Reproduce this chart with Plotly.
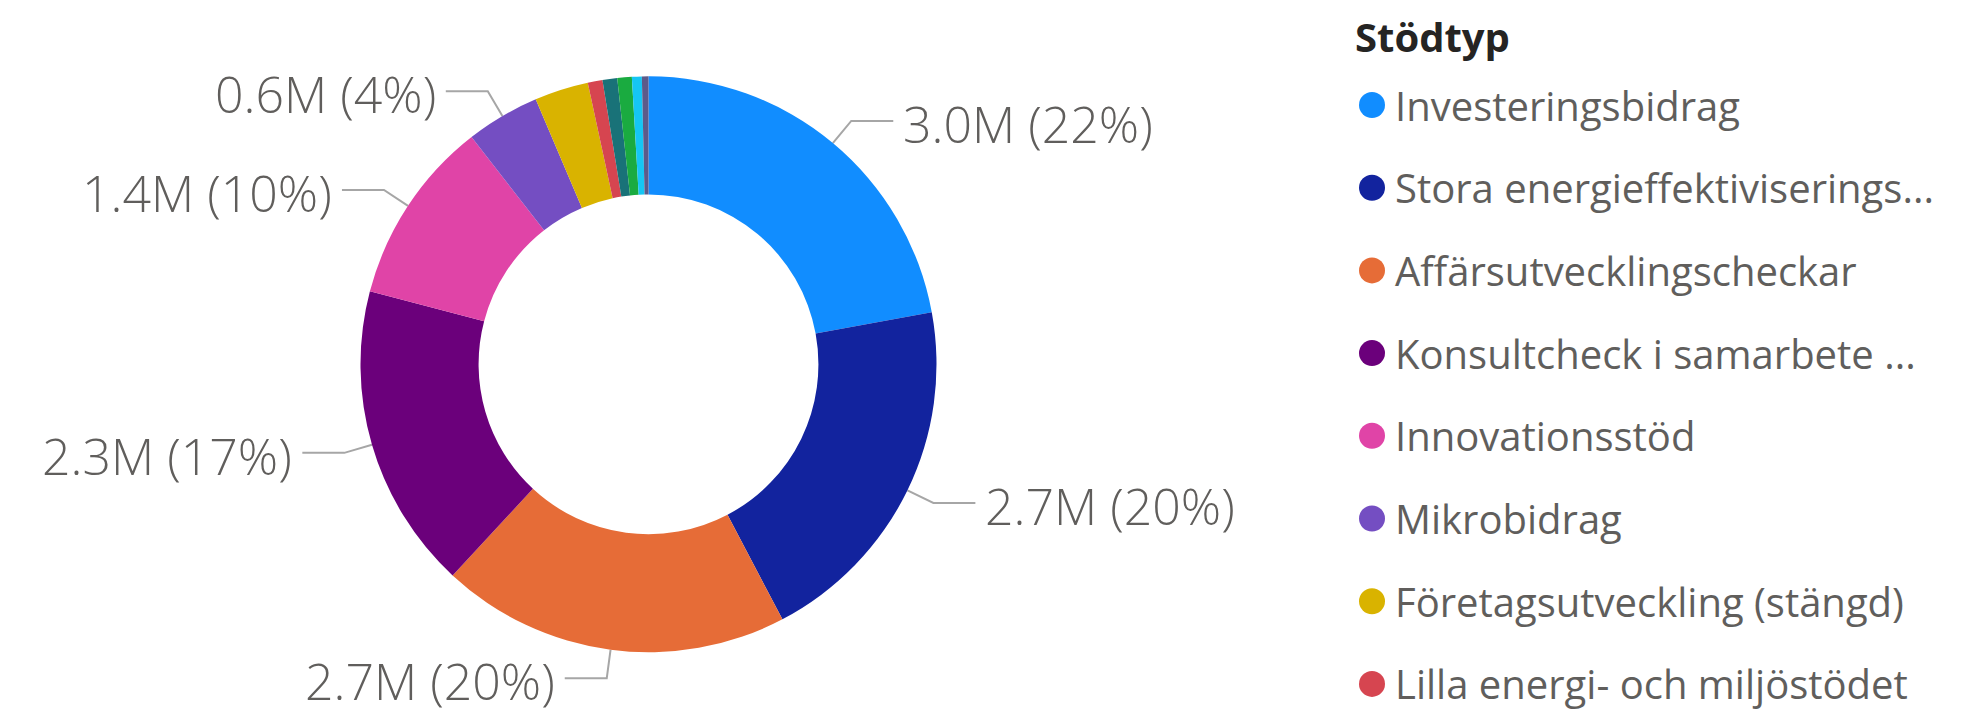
import math
import plotly.graph_objects as go

# ---- data ----
categories = [
    "Investeringsbidrag",
    "Stora energieffektiviserings...",
    "Affärsutvecklingscheckar",
    "Konsultcheck i samarbete ...",
    "Innovationsstöd",
    "Mikrobidrag",
    "Företagsutveckling (stängd)",
    "Lilla energi- och miljöstödet",
    "Exportcheck",
    "Digitaliseringscheck",
    "Internationaliseringscheck",
    "Övrigt",
]
values_m = [3.00, 2.74, 2.66, 2.33, 1.41, 0.56, 0.41, 0.112, 0.112, 0.11, 0.075, 0.05]
colors = ["#118DFF", "#12239E", "#E66C37", "#6B007B", "#E044A7", "#744EC2",
          "#D9B300", "#D64550", "#197278", "#1AAB40", "#15C6F4", "#5C5B8A"]
legend_title = "Stödtyp"
n_labeled = 6
n_legend = 8

# ---- layout geometry (pixels) ----
W, H = 1972, 723
cx, cy, R = 648.5, 364.3, 288.0
hole = 0.59
label_font = "Open Sans"
label_color = "#605E5C"
line_color = "#A6A6A6"

fig = go.Figure()

fig.add_trace(go.Pie(
    labels=categories,
    values=values_m,
    marker=dict(colors=colors, line=dict(width=0)),
    sort=False,
    direction="clockwise",
    rotation=0,
    hole=hole,
    textinfo="none",
    showlegend=False,
    domain=dict(x=[(cx - R) / W, (cx + R) / W],
                y=[(H - cy - R) / H, (H - cy + R) / H]),
    hovertemplate="%{label}<br>%{value:.2f}M (%{percent})<extra></extra>",
))

total = sum(values_m)
cum = 0.0
lx, ly = [], []
annotations = []
for i, v in enumerate(values_m):
    mid = (cum + v / 2) / total * 2 * math.pi
    cum += v
    if i >= n_labeled:
        continue
    s, c = math.sin(mid), math.cos(mid)
    ox, oy = cx + R * s, cy - R * c
    ex, ey = cx + 1.1 * R * s, cy - 1.1 * R * c
    side = 1 if s > 0 else -1
    hx = ex + side * 42
    lx += [ox, ex, hx, None]
    ly += [oy, ey, ey, None]
    pct = round(v / total * 100)
    annotations.append(dict(
        x=hx + side * 8, y=ey + 3, xref="x", yref="y",
        text=f"{v:.1f}M ({pct}%)", showarrow=False,
        xanchor="left" if side > 0 else "right", yanchor="middle",
        font=dict(family=label_font, size=50, color=label_color, weight=300),
    ))

fig.add_trace(go.Scatter(x=lx, y=ly, mode="lines",
                         line=dict(color=line_color, width=2),
                         hoverinfo="skip", showlegend=False))

# ---- legend (manual) ----
leg_x, leg_title_y, leg_y0, leg_dy = 1372, 36, 105, 82.7
fig.add_trace(go.Scatter(
    x=[leg_x] * n_legend,
    y=[leg_y0 + i * leg_dy for i in range(n_legend)],
    mode="markers",
    marker=dict(color=colors[:n_legend], size=26, line=dict(width=0)),
    hoverinfo="skip", showlegend=False,
))
annotations.append(dict(
    x=leg_x - 19, y=leg_title_y, xref="x", yref="y", text=f"<b>{legend_title}</b>",
    showarrow=False, xanchor="left", yanchor="middle",
    font=dict(family=label_font, size=40, color="#252423"),
))
for i in range(n_legend):
    annotations.append(dict(
        x=leg_x + 21, y=leg_y0 + i * leg_dy, xref="x", yref="y",
        text=categories[i], showarrow=False, xanchor="left", yanchor="middle",
        font=dict(family=label_font, size=40, color=label_color),
    ))

fig.update_layout(
    width=W, height=H,
    margin=dict(l=0, r=0, t=0, b=0),
    paper_bgcolor="white", plot_bgcolor="white",
    xaxis=dict(range=[0, W], visible=False, fixedrange=True),
    yaxis=dict(range=[H, 0], visible=False, fixedrange=True),
    annotations=annotations,
    showlegend=False,
)

fig.write_html("out.html")
